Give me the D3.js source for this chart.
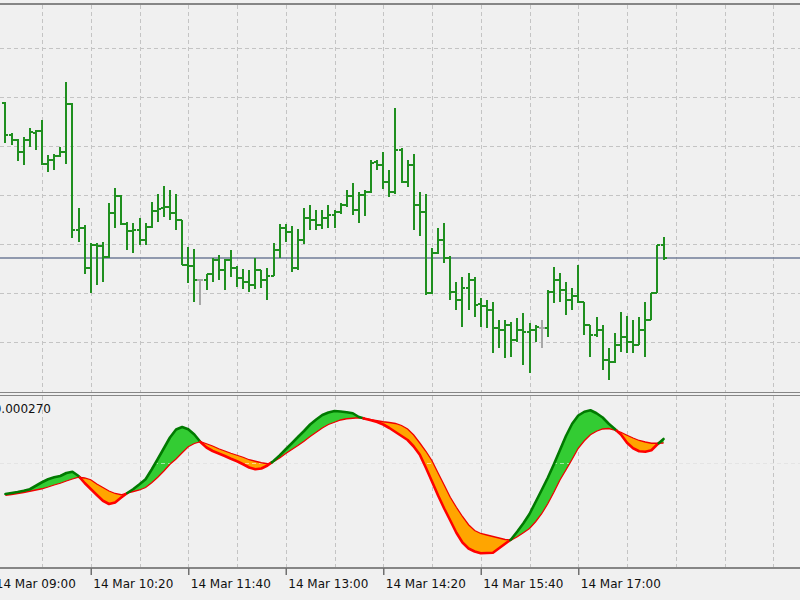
<!DOCTYPE html>
<html>
<head>
<meta charset="utf-8">
<script src="https://cdn.jsdelivr.net/npm/d3@7"></script>
<style>
  body { margin: 0; background: #f0f0f0; }
  svg { display: block; font-family: "DejaVu Sans", sans-serif; }
</style>
</head>
<body>
<svg></svg>
<script>
const width = 800;
const height = 600;

// M5 bars, 14 Mar, first visible bar 09:10
const firstBar = "2013-03-14 09:10";
const barMinutes = 5;

const opens = [1.30297,1.30265,1.30260,1.30248,1.30260,1.30267,1.30269,1.30236,1.30240,1.30244,1.30248,1.30296,1.30170,1.30172,
  1.30132,1.30155,1.30154,1.30143,1.30187,1.30204,1.30176,1.30169,1.30170,1.30160,1.30173,1.30189,1.30192,1.30193,1.30187,1.30180,
  1.30135,1.30134,1.30120,1.30120,1.30126,1.30140,1.30130,1.30140,1.30132,1.30122,1.30118,1.30115,1.30130,1.30120,1.30124,1.30150,
  1.30172,1.30168,1.30132,1.30160,1.30182,1.30180,1.30175,1.30182,1.30185,1.30188,1.30195,1.30204,1.30190,1.30205,1.30208,1.30238,
  1.30235,1.30218,1.30208,1.30250,1.30218,1.30235,1.30195,1.30188,1.30107,1.30147,1.30160,1.30142,1.30108,1.30100,1.30112,1.30120,
  1.30096,1.30094,1.30090,1.30072,1.30070,1.30075,1.30060,1.30070,1.30068,1.30070,1.30072,1.30072,1.30108,1.30120,1.30110,1.30100,
  1.30104,1.30098,1.30075,1.30065,1.30070,1.30040,1.30038,1.30055,1.30063,1.30058,1.30055,1.30070,1.30080,1.30107,1.30155];
const highs = [1.30298,1.30267,1.30261,1.30263,1.30272,1.30270,1.30280,1.30245,1.30246,1.30253,1.30318,1.30297,1.30192,1.30175,
  1.30157,1.30157,1.30158,1.30197,1.30212,1.30205,1.30178,1.30177,1.30182,1.30177,1.30198,1.30206,1.30214,1.30210,1.30206,1.30180,
  1.30153,1.30151,1.30120,1.30126,1.30142,1.30145,1.30141,1.30150,1.30134,1.30131,1.30130,1.30142,1.30130,1.30132,1.30157,1.30176,
  1.30176,1.30174,1.30171,1.30192,1.30195,1.30190,1.30190,1.30195,1.30190,1.30197,1.30210,1.30217,1.30208,1.30210,1.30240,1.30240,
  1.30248,1.30230,1.30292,1.30252,1.30240,1.30246,1.30208,1.30206,1.30152,1.30172,1.30177,1.30144,1.30118,1.30123,1.30127,1.30123,
  1.30102,1.30100,1.30098,1.30080,1.30080,1.30078,1.30082,1.30087,1.30077,1.30075,1.30080,1.30110,1.30133,1.30127,1.30118,1.30112,
  1.30135,1.30098,1.30075,1.30083,1.30075,1.30052,1.30067,1.30088,1.30084,1.30080,1.30083,1.30098,1.30107,1.30155,1.30163];
const lows = [1.30257,1.30255,1.30239,1.30235,1.30253,1.30250,1.30235,1.30228,1.30230,1.30243,1.30236,1.30162,1.30158,1.30126,
  1.30107,1.30115,1.30118,1.30142,1.30172,1.30175,1.30150,1.30147,1.30155,1.30155,1.30172,1.30178,1.30183,1.30180,1.30170,1.30135,
  1.30117,1.30098,1.30095,1.30110,1.30118,1.30120,1.30110,1.30123,1.30113,1.30111,1.30108,1.30111,1.30112,1.30100,1.30124,1.30142,
  1.30158,1.30128,1.30130,1.30156,1.30170,1.30170,1.30171,1.30172,1.30172,1.30186,1.30193,1.30185,1.30177,1.30184,1.30207,1.30230,
  1.30211,1.30203,1.30206,1.30217,1.30213,1.30170,1.30164,1.30105,1.30106,1.30146,1.30137,1.30100,1.30090,1.30073,1.30090,1.30083,
  1.30073,1.30072,1.30047,1.30052,1.30042,1.30043,1.30058,1.30035,1.30027,1.30058,1.30052,1.30063,1.30097,1.30098,1.30085,1.30090,
  1.30097,1.30065,1.30043,1.30063,1.30030,1.30020,1.30037,1.30048,1.30047,1.30047,1.30055,1.30043,1.30080,1.30107,1.30140];
const closes = [1.30265,1.30260,1.30248,1.30260,1.30268,1.30269,1.30236,1.30240,1.30244,1.30248,1.30296,1.30170,1.30172,1.30132,
  1.30155,1.30154,1.30143,1.30187,1.30204,1.30176,1.30169,1.30170,1.30160,1.30173,1.30189,1.30191,1.30193,1.30187,1.30180,1.30135,
  1.30134,1.30120,1.30120,1.30126,1.30140,1.30130,1.30140,1.30132,1.30122,1.30118,1.30115,1.30130,1.30120,1.30124,1.30150,1.30172,
  1.30168,1.30132,1.30160,1.30182,1.30180,1.30175,1.30182,1.30185,1.30188,1.30195,1.30204,1.30190,1.30205,1.30208,1.30237,1.30235,
  1.30218,1.30208,1.30250,1.30218,1.30235,1.30195,1.30188,1.30107,1.30147,1.30160,1.30142,1.30108,1.30100,1.30112,1.30120,1.30095,
  1.30094,1.30090,1.30072,1.30070,1.30075,1.30060,1.30070,1.30068,1.30070,1.30073,1.30072,1.30108,1.30120,1.30110,1.30100,1.30104,
  1.30098,1.30075,1.30065,1.30070,1.30040,1.30038,1.30055,1.30063,1.30058,1.30055,1.30070,1.30080,1.30107,1.30155,1.30142];

// indicator lines, in millionths (fast and slow)
const fastVals = [-124,-120,-116,-111,-105,-91,-77,-65,-57,-52,-40,-35,-52,-80,
  -104,-128,-151,-164,-158,-138,-120,-104,-85,-65,-26,16,59,102,134,144,
  135,114,84,62,48,38,28,17,7,-5,-18,-25,-22,-10,8,30,
  55,79,104,128,154,174,192,202,208,206,203,199,184,177,171,164,
  154,140,124,108,92,66,33,-19,-74,-130,-182,-230,-279,-318,-342,-354,
  -361,-360,-359,-341,-323,-305,-274,-241,-204,-156,-108,-59,-5,52,109,157,
  190,205,211,199,182,157,136,114,81,59,47,45,51,75,96];
const slowVals = [-129,-126,-122,-118,-113,-108,-103,-96,-88,-81,-72,-64,-57,-60,
  -67,-84,-98,-112,-122,-127,-120,-114,-108,-98,-79,-57,-32,-5,16,41,
  65,78,85,77,68,57,48,39,31,23,13,7,1,-3,5,20,
  38,54,70,87,106,123,140,154,163,172,177,179,181,178,173,169,
  165,162,158,150,136,112,80,47,9,-40,-88,-137,-177,-214,-247,-270,
  -282,-288,-294,-300,-306,-308,-295,-279,-262,-235,-203,-163,-117,-68,-27,15,
  59,89,113,127,136,138,132,123,111,100,90,84,79,79,80];

const tickTimes = ["09:00", "10:20", "11:40", "13:00", "14:20", "15:40", "17:00"];
const priceGrid = [1.30352, 1.30303, 1.30254, 1.30205, 1.30156, 1.30107, 1.30058];
const indicatorGrid = [0];
const indicatorLabel = "0.000270";

const parseTime = d3.timeParse("%Y-%m-%d %H:%M");
const times = opens.map((d, i) => d3.timeMinute.offset(parseTime(firstBar), i * barMinutes));
const tickDates = tickTimes.map(s => parseTime("2013-03-14 " + s));
const gridDates = d3.range(16).map(i => d3.timeMinute.offset(parseTime("2013-03-14 09:40"), i * 40));

const barColor = "#1f8f1f";
const dojiColor = "#a8a8a8";
const gridColor = "#c4c4c4";

const svg = d3.select("svg")
    .attr("width", width)
    .attr("height", height);

// scales
const x = d3.scaleTime()
    .domain([parseTime("2013-03-14 10:20"), parseTime("2013-03-14 17:00")])
    .range([90.75, 578.25]);
const yPrice = d3.scaleLinear().domain([1.30000, 1.30400]).range([400, 0]);
const yInd = d3.scaleLinear().domain([-420, 270]).range([568, 395.5]);

svg.append("rect").attr("width", width).attr("height", height).attr("fill", "#f0f0f0");

// grid
const grid = svg.append("g")
    .attr("stroke", gridColor)
    .attr("stroke-dasharray", "4,3")
    .attr("shape-rendering", "crispEdges");

grid.selectAll(".hgrid")
    .data(priceGrid)
    .enter()
    .append("line")
    .attr("x1", 0).attr("x2", width)
    .attr("y1", d => Math.round(yPrice(d)) + 0.5)
    .attr("y2", d => Math.round(yPrice(d)) + 0.5);

grid.selectAll(".vgrid")
    .data(gridDates)
    .enter()
    .append("line")
    .attr("x1", d => Math.round(x(d)) + 0.5)
    .attr("x2", d => Math.round(x(d)) + 0.5)
    .attr("y1", 5).attr("y2", 392);

grid.selectAll(".vgrid2")
    .data(gridDates)
    .enter()
    .append("line")
    .attr("x1", d => Math.round(x(d)) + 0.5)
    .attr("x2", d => Math.round(x(d)) + 0.5)
    .attr("y1", 396).attr("y2", 567);

grid.selectAll(".igrid")
    .data(indicatorGrid)
    .enter()
    .append("line")
    .attr("x1", 0).attr("x2", width)
    .attr("y1", d => Math.round(yInd(d)) + 0.5)
    .attr("y2", d => Math.round(yInd(d)) + 0.5);

// current price line (last close)
const lastClose = closes[closes.length - 1];
svg.append("line")
    .attr("x1", 0).attr("x2", width)
    .attr("y1", yPrice(lastClose)).attr("y2", yPrice(lastClose))
    .attr("stroke", "#707c98")
    .attr("stroke-width", 1.4);

// OHLC bars
const bars = svg.append("g").attr("shape-rendering", "crispEdges");
const barData = times.map((t, i) => ({
    x: Math.round(x(t)), o: opens[i], h: highs[i], l: lows[i], c: closes[i]
}));
const barFill = d => d.o === d.c ? dojiColor : barColor;

bars.selectAll(".stem")
    .data(barData)
    .enter()
    .append("rect")
    .attr("x", d => d.x - 1)
    .attr("y", d => Math.round(yPrice(d.h)))
    .attr("width", 2)
    .attr("height", d => Math.max(2, Math.round(yPrice(d.l) - yPrice(d.h))))
    .attr("fill", barFill);

bars.selectAll(".open")
    .data(barData)
    .enter()
    .append("rect")
    .attr("x", d => d.x - 3)
    .attr("y", d => Math.round(yPrice(d.o)) - 1)
    .attr("width", 3)
    .attr("height", 2)
    .attr("fill", barFill);

bars.selectAll(".close")
    .data(barData)
    .enter()
    .append("rect")
    .attr("x", d => d.x)
    .attr("y", d => Math.round(yPrice(d.c)) - 1)
    .attr("width", 3)
    .attr("height", 2)
    .attr("fill", barFill);

// indicator: split into runs where fast is above / below slow
const pts = times.map((t, i) => ({ x: x(t), f: yInd(fastVals[i]), s: yInd(slowVals[i]) }));
const runs = [];
let cur = [pts[0]];
let curUp = pts[0].f <= pts[0].s;
for (let i = 1; i < pts.length; i++) {
    const a = pts[i - 1], b = pts[i];
    const da = a.f - a.s, db = b.f - b.s;
    if (db !== 0 && (db < 0) !== curUp) {
        let c = a;
        if (da !== 0) {
            const u = da / (da - db);
            const cy = a.f + u * (b.f - a.f);
            c = { x: a.x + u * (b.x - a.x), f: cy, s: cy };
            cur.push(c);
        }
        runs.push({ up: curUp, pts: cur });
        cur = [c, b];
        curUp = db < 0;
    } else {
        cur.push(b);
    }
}
runs.push({ up: curUp, pts: cur });

const area = d3.area().x(d => d.x).y0(d => d.s).y1(d => d.f);
const fastLine = d3.line().x(d => d.x).y(d => d.f);
const slowLine = d3.line().x(d => d.x).y(d => d.s);

const ind = svg.append("g");
ind.selectAll(".band")
    .data(runs)
    .enter()
    .append("path")
    .attr("d", d => area(d.pts))
    .attr("fill", d => d.up ? "#33cc33" : "#ffa500");

// zero line shows faintly through the bands
ind.append("line")
    .attr("x1", 0).attr("x2", width)
    .attr("y1", Math.round(yInd(0)) + 0.5).attr("y2", Math.round(yInd(0)) + 0.5)
    .attr("stroke", "#ffffff")
    .attr("stroke-opacity", 0.55)
    .attr("stroke-dasharray", "4,3");

ind.append("path")
    .attr("d", slowLine(pts))
    .attr("fill", "none")
    .attr("stroke", "#f00000")
    .attr("stroke-width", 1.3);

ind.selectAll(".fast")
    .data(runs)
    .enter()
    .append("path")
    .attr("d", d => fastLine(d.pts))
    .attr("fill", "none")
    .attr("stroke", d => d.up ? "#007a00" : "#ff0000")
    .attr("stroke-width", 2.6)
    .attr("stroke-linejoin", "round")
    .attr("stroke-linecap", "round");

ind.append("text")
    .attr("x", 51)
    .attr("y", 413)
    .attr("text-anchor", "end")
    .style("font-size", "12px")
    .attr("fill", "#111")
    .text(indicatorLabel);

// frame lines
const frame = svg.append("g").attr("stroke", "#868686").attr("shape-rendering", "crispEdges");
frame.append("line").attr("x1", 0).attr("x2", width).attr("y1", 4).attr("y2", 4).attr("stroke-width", 2);
frame.append("line").attr("x1", 0).attr("x2", width).attr("y1", 392.5).attr("y2", 392.5).attr("stroke-width", 1.5);
frame.append("line").attr("x1", 0).attr("x2", width).attr("y1", 395.5).attr("y2", 395.5).attr("stroke-width", 1);
frame.append("line").attr("x1", 0).attr("x2", width).attr("y1", 568).attr("y2", 568).attr("stroke-width", 2);

// time axis
const axis = d3.axisBottom(x)
    .tickValues(tickDates)
    .tickFormat(d3.timeFormat("%d %b %H:%M"))
    .tickSizeInner(7)
    .tickSizeOuter(0);

const ax = svg.append("g")
    .attr("transform", "translate(0,568)")
    .call(axis)
    .attr("font-family", "DejaVu Sans, sans-serif")
    .attr("font-size", 12);
ax.select(".domain").remove();
ax.selectAll(".tick line").attr("stroke", "#707070").attr("stroke-width", 1.5);
ax.selectAll(".tick text")
    .attr("text-anchor", "start")
    .attr("x", 2)
    .attr("y", 20)
    .attr("dy", null)
    .attr("fill", "#111");
</script>
</body>
</html>
